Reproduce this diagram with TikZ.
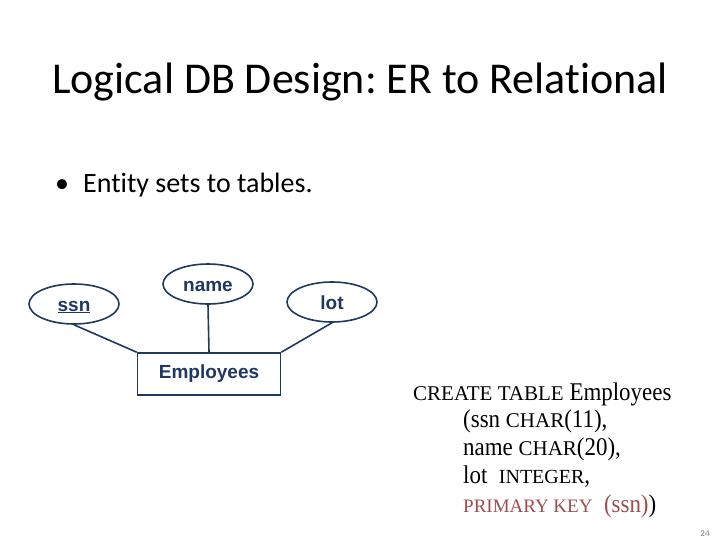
\documentclass[tikz,border=0pt]{standalone}
\usepackage{fontspec}
\setmainfont{Liberation Serif}
\newfontfamily\slidefont[Ligatures=NoCommon]{Carlito}
\newfontfamily\erfont{Liberation Sans}
\newfontfamily\sqltall[FakeStretch=0.9]{Liberation Serif}
\usepackage{xcolor}
\usetikzlibrary{shapes.geometric,positioning,calc}

\definecolor{erblue}{RGB}{31,56,96}
\definecolor{keyred}{RGB}{160,75,75}
\newcommand{\sqlkw}[2][21]{{\rmfamily\fontsize{#1}{24}\selectfont #2}}
\frenchspacing

\begin{document}
\begin{tikzpicture}[x=1pt, y=-1pt,
    attr/.style={ellipse, draw=erblue, line width=1.6pt, minimum width=90pt, minimum height=40pt, inner sep=0pt, text height=14pt, text depth=0pt, text=erblue, font=\erfont\bfseries\fontsize{19}{21}\selectfont},
    entity/.style={rectangle, draw=erblue, line width=1.6pt, minimum width=143pt, minimum height=42pt, inner sep=0pt, text=erblue, font=\erfont\bfseries\fontsize{19}{21}\selectfont},
    sqlline/.style={anchor=base west, inner sep=0pt, font=\sqltall\fontsize{25.5}{28}\selectfont},
    link/.style={draw=erblue, line width=1.6pt}]
    \useasboundingbox (0,0) rectangle (720,540);

    % title and bullet
    \node [anchor=base, inner sep=0pt, font=\slidefont\fontsize{44}{52}\selectfont] (title) at (360,94) {Logical DB Design: ER to Relational};
    \node [anchor=base west, inner sep=0pt, font=\slidefont\fontsize{28}{32}\selectfont] (bullet) at (55,193) {\makebox[28pt][l]{\textbullet}Entity sets to tables.};

    % ER diagram
    \node [attr] (ssn) at (74,304) {\underline{ssn}};
    \node [attr] (name) at (208,284) {name};
    \node [attr] (lot) at (332,302) {lot};
    \node [entity] (emp) at (209,374) {Employees};

    \draw [link] (ssn.south) -- (emp.north west);
    \draw [link] (name.south) -- (emp.north);
    \draw [link] (lot.south) -- (emp.north east);

    % SQL statement
    \node [sqlline] (create) at (413,400) {\sqlkw{CREATE TABLE} Employees};
    \node [sqlline] (colssn) at (463,427) {(ssn \sqlkw{CHAR}(11),};
    \node [sqlline] (colname) at (463,455) {name \sqlkw{CHAR}(20),};
    \node [sqlline] (collot) at (463,483) {lot\ \ \sqlkw[20]{INTEGER},};
    \node [sqlline] (pkey) at (463,512) {{\color{keyred}\sqlkw[19]{PRIMARY KEY}\ \ (ssn)})};

    % page number
    \node [text=gray, font=\slidefont\fontsize{9}{10}\selectfont] (page) at (705,534) {24};
\end{tikzpicture}
\end{document}
